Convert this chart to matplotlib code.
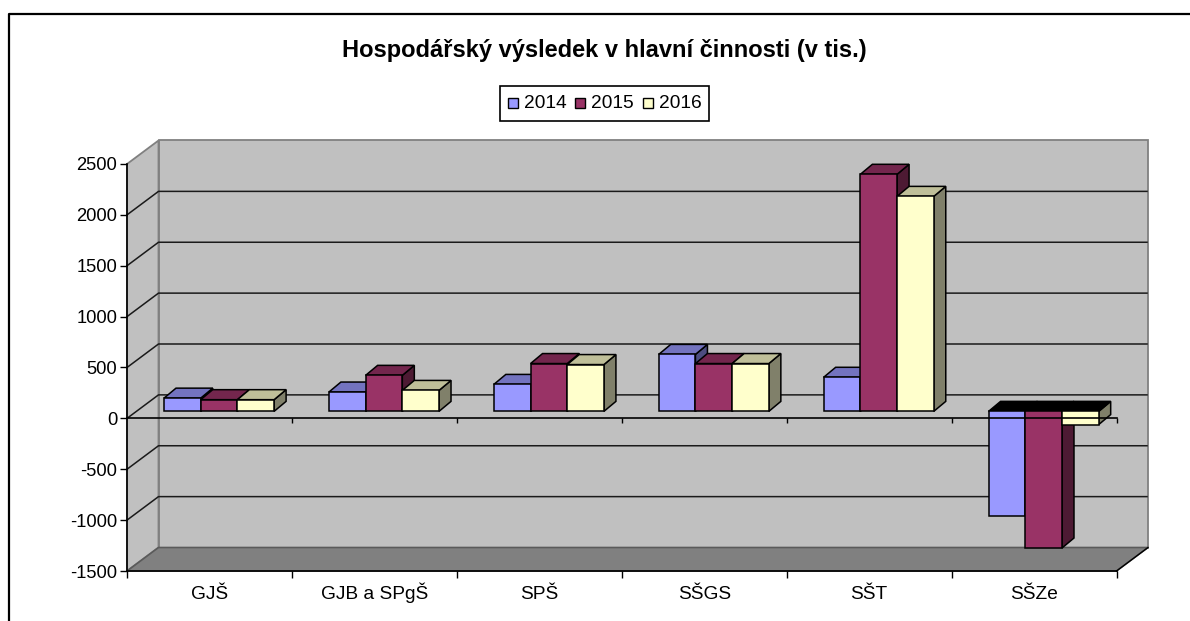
# Libraries
import matplotlib
matplotlib.use('Agg')
import matplotlib.pyplot as plt
from matplotlib.patches import Polygon, Rectangle
import numpy as np

categories = ['GJŠ', 'GJB a SPgŠ', 'SPŠ', 'SŠGS', 'SŠT', 'SŠZe']
years = ['2014', '2015', '2016']
values_2014 = [130, 190, 265, 560, 335, -1032]
values_2015 = [115, 354, 470, 470, 2330, -1343]
values_2016 = [115, 206, 460, 470, 2113, -130]
y_ticks = [-1500, -1000, -500, 0, 500, 1000, 1500, 2000, 2500]

front_colors = ['#9999FF', '#993366', '#FFFFCC']
top_colors = ['#7373BF', '#73264D', '#BFBF99']
side_colors = ['#4D4D80', '#4D1A33', '#80806A']

W, H = 1190, 621
# pixel box of the front plane of the chart
LEFT, RIGHT, TOP, BOTTOM = 127, 1116.5, 164, 571
PX_X = (RIGHT - LEFT) / 6
PX_Y = (BOTTOM - TOP) / 4000
FONT = 13.8


def px_dx(px):
    return px / PX_X


def px_dy(px):
    return px / PX_Y


def draw_walls(ax):
    dx, dy = px_dx(31.5), px_dy(23.5)
    ax.add_patch(Rectangle((dx, -1500 + dy), 6, 4000, fc='#C0C0C0', ec='#808080', lw=1.3, zorder=1, clip_on=False))
    ax.add_patch(Polygon([(0, -1500), (dx, -1500 + dy), (dx, 2500 + dy), (0, 2500)], fc='#C0C0C0', ec='#808080', lw=1.3, zorder=1, clip_on=False))
    ax.add_patch(Polygon([(0, -1500), (6, -1500), (6 + dx, -1500 + dy), (dx, -1500 + dy)], fc='#808080', ec='#5A5A5A', lw=1.2, zorder=1.5, clip_on=False))
    # outer edges of the floor and the wall grid
    ax.plot([6, 6 + dx], [-1500, -1500 + dy], color='black', lw=1.0, zorder=2, clip_on=False)
    for v in y_ticks[1:-1]:
        ax.plot([0, dx, 6 + dx - px_dx(1)], [v, v + dy, v + dy], color='#1A1A1A', lw=1.1, zorder=2, clip_on=False)


def draw_bars(ax):
    dx, dy = px_dx(12), px_dy(10)
    shift_y = px_dy(7)
    bar_w = 36.7 / PX_X
    start = 37 / PX_X
    series = [values_2014, values_2015, values_2016]
    for c in range(len(categories)):
        for s in range(3):
            val = series[s][c]
            x = c + start + s * bar_w
            z = 3 + c + s * 0.1
            hi = max(val, 0) + shift_y
            lo = min(val, 0) + shift_y
            ax.bar(x, val, width=bar_w, bottom=shift_y, align='edge', color=front_colors[s], edgecolor='black', lw=1.1, zorder=z + 0.02, clip_on=False)
            ax.add_patch(Polygon([(x + bar_w, lo), (x + bar_w + dx, lo + dy), (x + bar_w + dx, hi + dy), (x + bar_w, hi)],
                                 fc=side_colors[s], ec='black', lw=1.1, zorder=z, clip_on=False))
            top = 'black' if val < 0 else top_colors[s]
            ax.add_patch(Polygon([(x, hi), (x + dx, hi + dy), (x + bar_w + dx, hi + dy), (x + bar_w, hi)],
                                 fc=top, ec='black', lw=1.1, zorder=z + 0.01, clip_on=False))


def main():
    plt.rcParams['font.family'] = ['Liberation Sans', 'DejaVu Sans']
    fig = plt.figure(figsize=(W / 100, H / 100), dpi=100)
    ax = fig.add_axes([LEFT / W, 1 - BOTTOM / H, (RIGHT - LEFT) / W, (BOTTOM - TOP) / H])
    ax.set_xlim(0, 6)
    ax.set_ylim(-1500, 2500)
    ax.patch.set_visible(False)

    draw_walls(ax)
    draw_bars(ax)

    # category axis on the zero line, drawn over the bars
    ax.plot([0, 6], [0, 0], color='black', lw=1.2, zorder=20, clip_on=False)
    ax.vlines(np.arange(1, 7), -px_dy(5), 0, color='black', lw=1.0, zorder=20, clip_on=False)

    for name in ['top', 'right']:
        ax.spines[name].set_visible(False)
    for name in ['left', 'bottom']:
        ax.spines[name].set_linewidth(1.2)
        ax.spines[name].set_zorder(21)

    ax.set_yticks(y_ticks)
    ax.set_yticklabels([str(v) for v in y_ticks], fontsize=13.2, color='black')
    ax.tick_params(axis='y', length=5, width=1.0, pad=2)
    ax.set_xticks(np.arange(7))
    ax.set_xticklabels([])
    ax.tick_params(axis='x', which='major', length=5, width=1.0)
    ax.set_xticks(np.arange(6) + 0.5, minor=True)
    ax.set_xticklabels(categories, minor=True, fontsize=FONT, va='baseline')
    ax.tick_params(axis='x', which='minor', length=0, pad=20)

    # chart frame, only top and left are in the picture
    fig.add_artist(plt.Line2D([8.5 / W, 8.5 / W, 1], [0, 1 - 14 / H, 1 - 14 / H], color='black', lw=1.6))

    fig.text(604.5 / W, 1 - 50 / H, 'Hospodářský výsledek v hlavní činnosti (v tis.)', fontsize=17.05, fontweight='bold', ha='center', va='center')

    # legend box
    fig.add_artist(Rectangle((499.5 / W, 1 - 120.5 / H), 209.5 / W, 34.5 / H, transform=fig.transFigure, fc='white', ec='black', lw=1.2))
    for s, x in zip(range(3), [507.5, 575, 642.5]):
        fig.add_artist(Rectangle((x / W, 1 - 108 / H), 10 / W, 10 / H, transform=fig.transFigure, fc=front_colors[s], ec='black', lw=1.0))
        fig.text((x + 16.5) / W, 1 - 103.5 / H, years[s], fontsize=FONT, ha='left', va='center')

    fig.savefig('out.png', dpi=100)


if __name__ == '__main__':
    main()
